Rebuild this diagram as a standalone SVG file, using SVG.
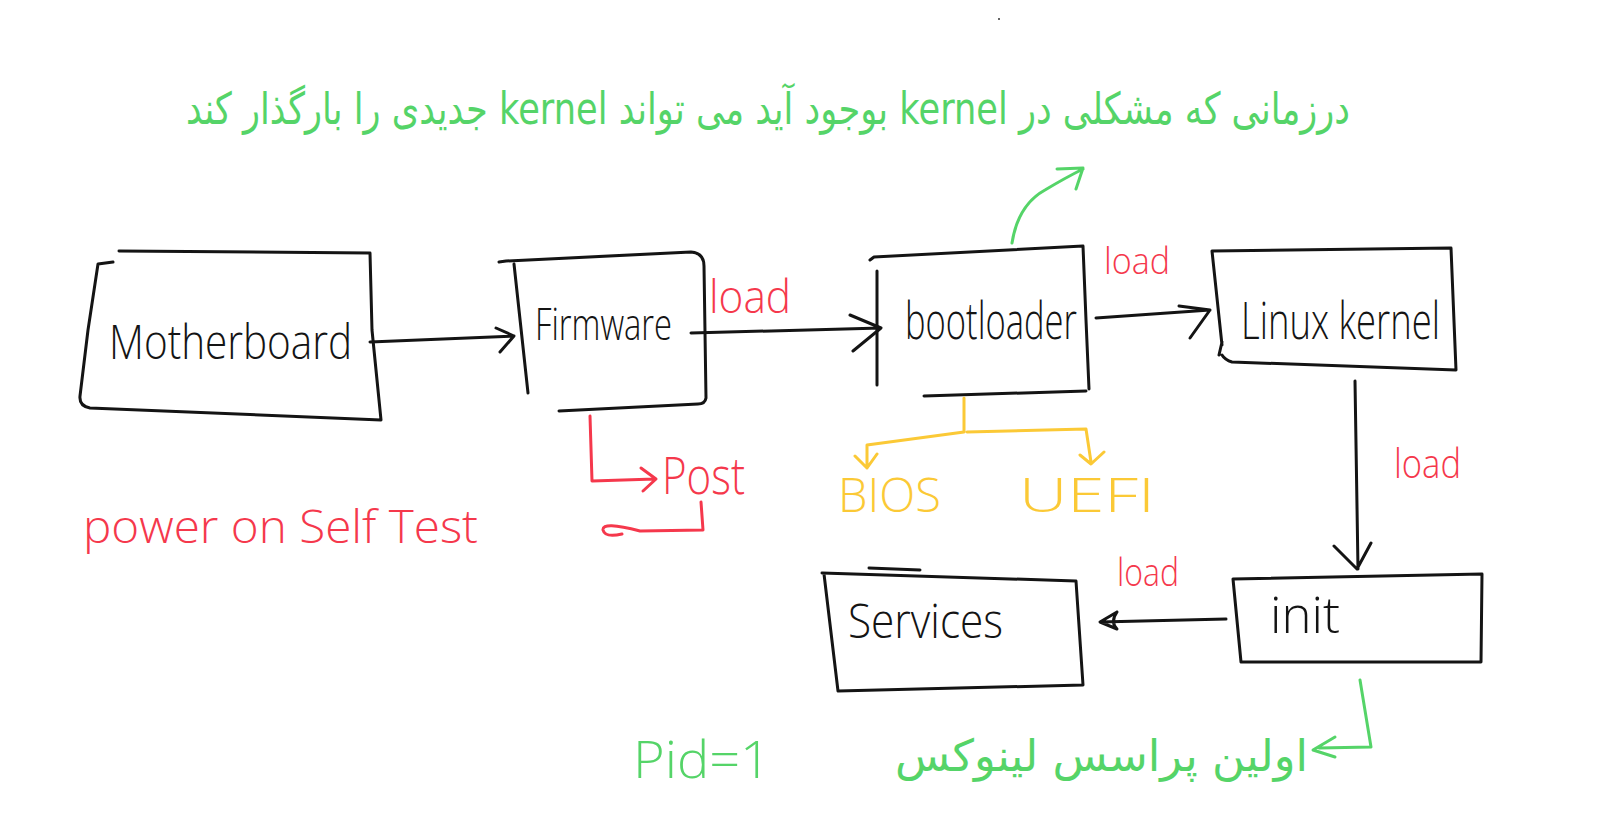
<svg xmlns="http://www.w3.org/2000/svg" width="1622" height="834" viewBox="0 0 1622 834">
  <style>
    .ink { fill: none; stroke: #141414; stroke-width: 3; stroke-linecap: round; stroke-linejoin: round; }
    .red { fill: none; stroke: #f5384c; stroke-width: 3; stroke-linecap: round; stroke-linejoin: round; }
    .grn { fill: none; stroke: #55d468; stroke-width: 3; stroke-linecap: round; stroke-linejoin: round; }
    .ylw { fill: none; stroke: #fbc936; stroke-width: 3; stroke-linecap: round; stroke-linejoin: round; }
    .lbl { font-family: "Open Sans", "Liberation Sans", sans-serif; font-weight: 300; fill: #141414; }
    .lred { font-family: "Open Sans", "Liberation Sans", sans-serif; font-weight: 300; fill: #f5384c; }
    .lgrn { font-family: "Open Sans", "Liberation Sans", sans-serif; font-weight: 300; fill: #55d468; }
    .lylw { font-family: "Open Sans", "Liberation Sans", sans-serif; font-weight: 300; fill: #fbc936; }
    .fa { font-family: "DejaVu Sans", "Noto Sans", sans-serif; fill: #55d468; }
  </style>

  <rect width="1622" height="834" fill="#ffffff"/>
  <circle cx="999" cy="19" r="1" fill="#333"/>

  <!-- boxes -->
  <g id="motherboard">
    <path class="ink" d="M119,251 L370,253 M113,262 L98,264 L88,330 L80,396 Q79,406 90,408 L381,420 M370,253 L372,330 L381,420"/>
    <text class="lbl" x="109" y="359" font-size="48" textLength="243" lengthAdjust="spacingAndGlyphs">Motherboard</text>
  </g>

  <g id="firmware">
    <path class="ink" d="M499,262 L506,261 L691,252 Q704,253 704,266 L706,398 Q705,404 698,404 M514,264 L528,393 M559,411 L698,404"/>
    <text class="lbl" x="535" y="340" font-size="44" textLength="137" lengthAdjust="spacingAndGlyphs">Firmware</text>
  </g>

  <g id="bootloader">
    <path class="ink" d="M870,260 L874,257 L1083,246 L1086,320 L1089,389 M877,271 L877,385 M924,396 L1086,391"/>
    <text class="lbl" x="905" y="339" font-size="52" textLength="172" lengthAdjust="spacingAndGlyphs">bootloader</text>
  </g>

  <g id="linux-kernel">
    <path class="ink" d="M1212,251 L1451,248 L1456,370 L1232,362 Q1225,360 1222,355 M1212,251 L1222,345 M1222,342 L1219,355"/>
    <text class="lbl" x="1241" y="339" font-size="52" textLength="199" lengthAdjust="spacingAndGlyphs">Linux kernel</text>
  </g>

  <g id="init">
    <path class="ink" d="M1233,579 L1482,574 L1481,662 L1241,662 L1233,579"/>
    <text class="lbl" x="1270" y="633" font-size="50" textLength="70" lengthAdjust="spacingAndGlyphs">init</text>
  </g>

  <g id="services">
    <path class="ink" d="M869,568 L920,570 M822,573 L1076,581 L1083,685 L838,691 L824,574"/>
    <text class="lbl" x="848" y="638" font-size="48" textLength="155" lengthAdjust="spacingAndGlyphs">Services</text>
  </g>

  <!-- connectors -->
  <g id="connectors">
    <path class="ink" d="M370,342 L514,336 M496,328 L514,336 L500,352"/>
    <path class="ink" d="M691,333 L881,328 M850,315 L881,328 L853,351"/>
    <path class="ink" d="M1096,318 L1210,310 M1179,306 L1210,310 L1190,338"/>
    <path class="ink" d="M1355,381 L1358,569 M1334,546 L1357,569 L1371,543"/>
    <path class="ink" d="M1226,619 L1100,622 M1117,612 L1100,622 L1117,629 Q1110,622 1117,612"/>
    <text class="lred" x="709" y="313" font-size="46" textLength="82" lengthAdjust="spacingAndGlyphs">load</text>
    <text class="lred" x="1104" y="274" font-size="36" textLength="66" lengthAdjust="spacingAndGlyphs">load</text>
    <text class="lred" x="1394" y="478" font-size="40" textLength="67" lengthAdjust="spacingAndGlyphs">load</text>
    <text class="lred" x="1117" y="586" font-size="38" textLength="62" lengthAdjust="spacingAndGlyphs">load</text>
  </g>

  <!-- firmware self test -->
  <g id="post">
    <path class="red" d="M590,416 L592,481 L655,479 M641,468 L656,479 L643,491"/>
    <path class="red" d="M701,502 L703,530 L640,531 M640,531 Q602,521 603,530 Q605,538 622,534"/>
    <text class="lred" x="662" y="494" font-size="52" textLength="83" lengthAdjust="spacingAndGlyphs">Post</text>
    <text class="lred" x="83" y="543" font-size="46" textLength="395" lengthAdjust="spacingAndGlyphs">power on Self Test</text>
  </g>

  <!-- bootloader types -->
  <g id="boot-modes">
    <path class="ylw" d="M964,398 L964,432 L867,445 L867,468 M855,456 L867,468 L877,454 M967,432 L1086,429 L1091,462 M1080,455 L1091,464 L1104,452"/>
    <text class="lylw" x="838" y="512" font-size="48" textLength="103" lengthAdjust="spacingAndGlyphs">BIOS</text>
    <text class="lylw" x="1019" y="512" font-size="48" textLength="136" lengthAdjust="spacingAndGlyphs">UEFI</text>
  </g>

  <!-- kernel replacement note -->
  <g id="kernel-note">
    <path class="grn" d="M1012,243 Q1018,205 1045,190 Q1065,178 1083,169 M1057,169 L1083,168 L1076,189"/>
    <text class="fa" x="1350" y="124" font-size="44" direction="rtl" text-anchor="start" textLength="1164" lengthAdjust="spacingAndGlyphs">درزمانی که مشکلی در kernel بوجود آید می تواند kernel جدیدی را بارگذار کند</text>
  </g>

  <!-- first process note -->
  <g id="init-note">
    <path class="grn" d="M1360,680 L1371,747 L1319,748 M1335,737 L1313,750 L1335,757"/>
    <text class="fa" x="1308" y="771" font-size="44" direction="rtl" text-anchor="start" textLength="413" lengthAdjust="spacingAndGlyphs">اولین پراسس لینوکس</text>
    <text class="lgrn" x="633" y="778" font-size="52" textLength="138" lengthAdjust="spacingAndGlyphs">Pid=1</text>
  </g>
</svg>
